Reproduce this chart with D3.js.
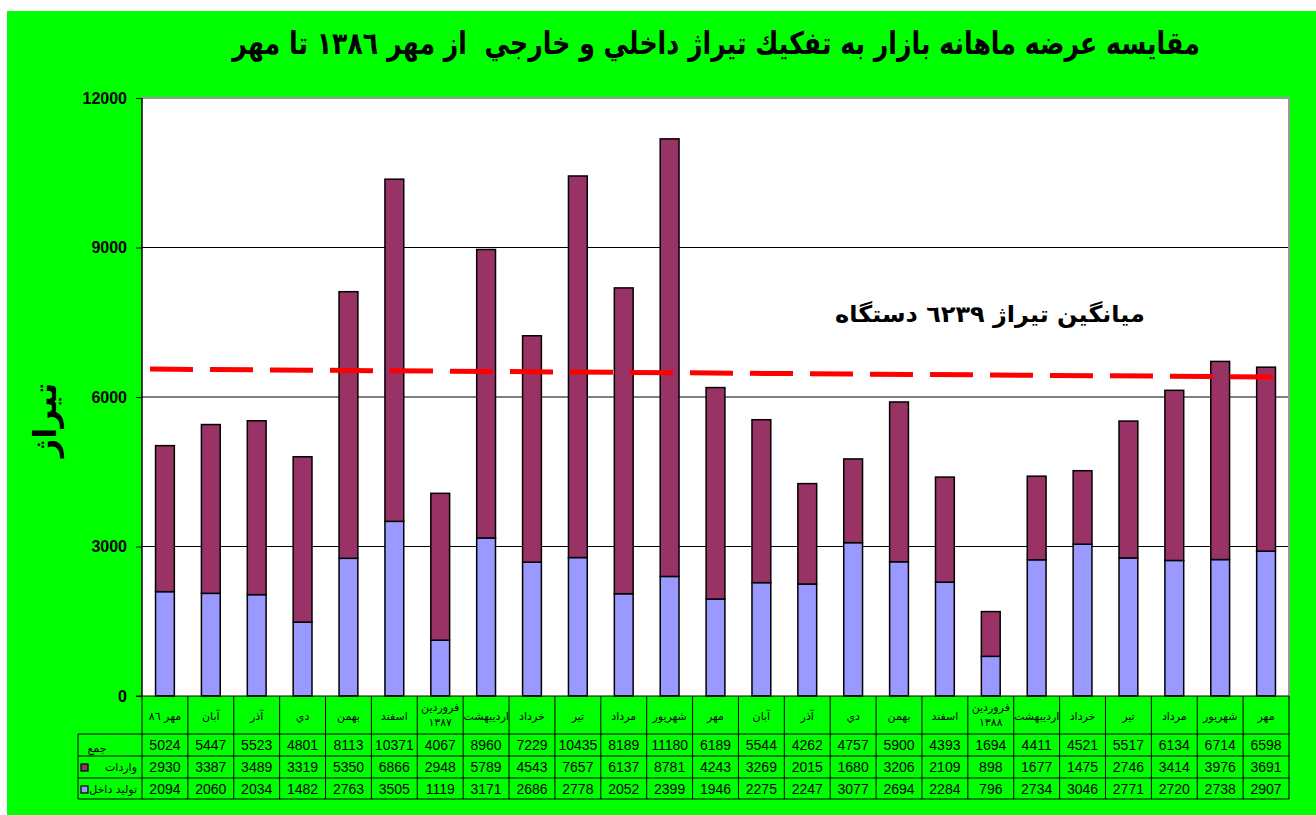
<!DOCTYPE html>
<html>
<head>
<meta charset="utf-8">
<script src="https://cdn.jsdelivr.net/npm/d3@7"></script>
<style>
  html, body { margin: 0; padding: 0; background: #fff; }
  svg { display: block; }
</style>
</head>
<body>
<script>
// months shown under each bar (Persian calendar, Mehr 1386 .. Mehr 1388)
const months = [
  'مهر ٨٦', 'آبان', 'آذر', 'دي', 'بهمن', 'اسفند', 'فروردين|١٣٨٧',
  'ارديبهشت', 'خرداد', 'تير', 'مرداد', 'شهريور', 'مهر', 'آبان', 'آذر',
  'دي', 'بهمن', 'اسفند', 'فروردين|١٣٨٨', 'ارديبهشت', 'خرداد', 'تير',
  'مرداد', 'شهريور', 'مهر'
]

// imports (top of each bar)
const imports = [2930, 3387, 3489, 3319, 5350, 6866, 2948, 5789, 4543, 7657, 6137, 8781,
  4243, 3269, 2015, 1680, 3206, 2109, 898, 1677, 1475, 2746, 3414, 3976, 3691]

// domestic production (bottom of each bar)
const domestic = [2094, 2060, 2034, 1482, 2763, 3505, 1119, 3171, 2686, 2778, 2052, 2399,
  1946, 2275, 2247, 3077, 2694, 2284, 796, 2734, 3046, 2771, 2720, 2738, 2907]

// totals as printed in the table
const totals = [5024, 5447, 5523, 4801, 8113, 10371, 4067, 8960, 7229, 10435, 8189, 11180,
  6189, 5544, 4262, 4757, 5900, 4393, 1694, 4411, 4521, 5517, 6134, 6714, 6598]

const yTicks = [0, 3000, 6000, 9000, 12000]

// drawn average line: value at its left end and at its right end
const trendValues = [6560, 6400]

const title = 'مقايسه عرضه ماهانه بازار به تفكيك تيراژ داخلي و خارجي  از مهر ١٣٨٦ تا مهر'
const avgLabel = 'ميانگين تيراژ ٦٢٣٩ دستگاه'
const yLabel = 'تيراژ'
const rowLabels = ['جمع', 'واردات', 'توليد داخل']

const W = 1316, H = 815
const plot = {left: 142, right: 1289, top: 98, bottom: 696}
const green = '#00ff00'
const purple = '#993366'
const blue = '#9999ff'
const latin = "'Liberation Sans', Arial, sans-serif"
const arabic = "'DejaVu Sans', sans-serif"

const svg = d3.select('body').append('svg').attr('width', W).attr('height', H)

// green chart background (thin white margin at top/left as in the source)
svg.append('rect').attr('x', 7).attr('y', 11).attr('width', W - 7).attr('height', H - 11).attr('fill', green)

const x = d3.scaleBand().domain(d3.range(months.length)).range([plot.left, plot.right])
const y = d3.scaleLinear().domain([0, 12000]).range([plot.bottom, plot.top])

// plot area
svg.append('rect')
   .attr('x', plot.left).attr('y', plot.top)
   .attr('width', plot.right - plot.left).attr('height', plot.bottom - plot.top)
   .attr('fill', '#fff')

// gridlines
svg.append('g').selectAll('line')
   .data(yTicks.filter(d => d > 0 && d < 12000))
   .enter().append('line')
   .attr('x1', plot.left).attr('x2', plot.right)
   .attr('y1', d => y(d)).attr('y2', d => y(d))
   .attr('stroke', '#000').attr('stroke-width', 1)

// gray frame on top and right
svg.append('path')
   .attr('d', `M${plot.left},${plot.top}H${plot.right}V${plot.bottom}`)
   .attr('fill', 'none').attr('stroke', '#999').attr('stroke-width', 2)

// bars
const bw = x.bandwidth() * 0.41
const bar = svg.append('g').selectAll('g')
   .data(months.map((m, i) => ({i, dom: domestic[i], imp: imports[i]})))
   .enter().append('g')
   .attr('transform', d => `translate(${x(d.i) + (x.bandwidth() - bw) / 2},0)`)

bar.append('rect')
   .attr('y', d => y(d.dom)).attr('height', d => y(0) - y(d.dom))
   .attr('width', bw).attr('fill', blue)
   .attr('stroke', '#000').attr('stroke-width', 1.5)

bar.append('rect')
   .attr('y', d => y(d.dom + d.imp)).attr('height', d => y(d.dom) - y(d.dom + d.imp))
   .attr('width', bw).attr('fill', purple)
   .attr('stroke', '#000').attr('stroke-width', 1.5)

// y axis
const yAxis = svg.append('g')
   .attr('transform', `translate(${plot.left},0)`)
   .call(d3.axisLeft(y).tickValues(yTicks).tickSize(6).tickPadding(9).tickFormat(d3.format('d')))
yAxis.select('.domain').remove()
yAxis.selectAll('.tick line').attr('stroke', '#000')
yAxis.selectAll('.tick text')
     .attr('font-family', latin).attr('font-weight', 'bold').attr('font-size', 16).attr('fill', '#000')
svg.append('line')
   .attr('x1', plot.left).attr('x2', plot.left).attr('y1', plot.top).attr('y2', plot.bottom)
   .attr('stroke', '#000').attr('stroke-width', 1.5)

// dashed average line
svg.append('line')
   .attr('x1', x(0) + 8).attr('x2', plot.right)
   .attr('y1', y(trendValues[0])).attr('y2', y(trendValues[1]))
   .attr('stroke', '#ff0000').attr('stroke-width', 5)
   .attr('stroke-dasharray', '43,17')

// fit a text element into a target width by horizontal scaling
const fitText = (sel, cx, cy, width) => {
  const len = sel.node().getComputedTextLength()
  const s = width / len
  sel.attr('transform', `translate(${cx},${cy}) scale(${s},1)`)
}

// average label
const avg = svg.append('text')
   .attr('font-family', arabic).attr('font-weight', 'bold').attr('font-size', 23)
   .attr('text-anchor', 'middle').attr('fill', '#000')
   .text(avgLabel)
fitText(avg, 990, 322, 310)

// title
const t = svg.append('text')
   .attr('font-family', arabic).attr('font-weight', 'bold').attr('font-size', 31)
   .attr('text-anchor', 'middle').attr('fill', '#000')
   .style('white-space', 'pre')
   .text(title)
fitText(t, 716, 54, 968)

// y axis title
svg.append('text')
   .attr('font-family', arabic).attr('font-weight', 'bold').attr('font-size', 32)
   .attr('text-anchor', 'middle').attr('fill', '#000')
   .attr('transform', 'translate(56,420) rotate(-90)')
   .text(yLabel)

// ---- data table ----
const tbl = {left: 78, catTop: plot.bottom, rowTops: [734, 756, 778], bottom: 799}
const g = svg.append('g').attr('stroke', '#000').attr('stroke-width', 1)

// horizontal lines
g.selectAll('.h').data(tbl.rowTops.concat([tbl.bottom])).enter().append('line')
 .attr('x1', tbl.left).attr('x2', plot.right)
 .attr('y1', d => d).attr('y2', d => d)

// vertical lines between months
g.selectAll('.v').data(d3.range(months.length + 1)).enter().append('line')
 .attr('x1', i => i < months.length ? x(i) : plot.right)
 .attr('x2', i => i < months.length ? x(i) : plot.right)
 .attr('y1', tbl.catTop).attr('y2', tbl.bottom)
g.append('line').attr('x1', tbl.left).attr('x2', tbl.left).attr('y1', tbl.rowTops[0]).attr('y2', tbl.bottom)
g.append('line').attr('x1', plot.left - 6).attr('x2', plot.right).attr('y1', plot.bottom).attr('y2', plot.bottom)

// month labels
const cat = svg.append('g').selectAll('text')
   .data(months).enter().append('text')
   .attr('font-family', arabic).attr('font-size', 11).attr('fill', '#000')
   .attr('text-anchor', 'middle')
   .attr('x', (d, i) => x(i) + x.bandwidth() / 2)
   .attr('y', d => d.includes('|') ? 711 : 720)
cat.each(function (d) {
  const parts = d.split('|')
  const el = d3.select(this)
  parts.forEach((p, k) => {
    el.append('tspan').attr('x', el.attr('x')).attr('dy', k ? 15 : 0).text(p)
  })
})

// number rows
const rows = [totals, imports, domestic]
rows.forEach((vals, r) => {
  svg.append('g').selectAll('text')
     .data(vals).enter().append('text')
     .attr('font-family', latin).attr('font-size', 14).attr('fill', '#000')
     .attr('text-anchor', 'middle')
     .attr('x', (d, i) => x(i) + x.bandwidth() / 2)
     .attr('y', tbl.rowTops[r] + 16)
     .text(d => d)
})

// row headers
svg.append('text')
   .attr('font-family', arabic).attr('font-size', 11).attr('fill', '#000')
   .attr('text-anchor', 'middle')
   .attr('x', 97).attr('y', tbl.rowTops[0] + 18).text(rowLabels[0])
;[[1, purple], [2, blue]].forEach(([r, c]) => {
  svg.append('rect')
     .attr('x', 81).attr('y', tbl.rowTops[r] + 8).attr('width', 7).attr('height', 7)
     .attr('fill', c).attr('stroke', '#000').attr('stroke-width', 1.2)
  svg.append('text')
     .attr('font-family', arabic).attr('font-size', 11).attr('fill', '#000')
     .attr('text-anchor', 'end')
     .attr('x', 137).attr('y', tbl.rowTops[r] + 15).text(rowLabels[r])
})
</script>
</body>
</html>
